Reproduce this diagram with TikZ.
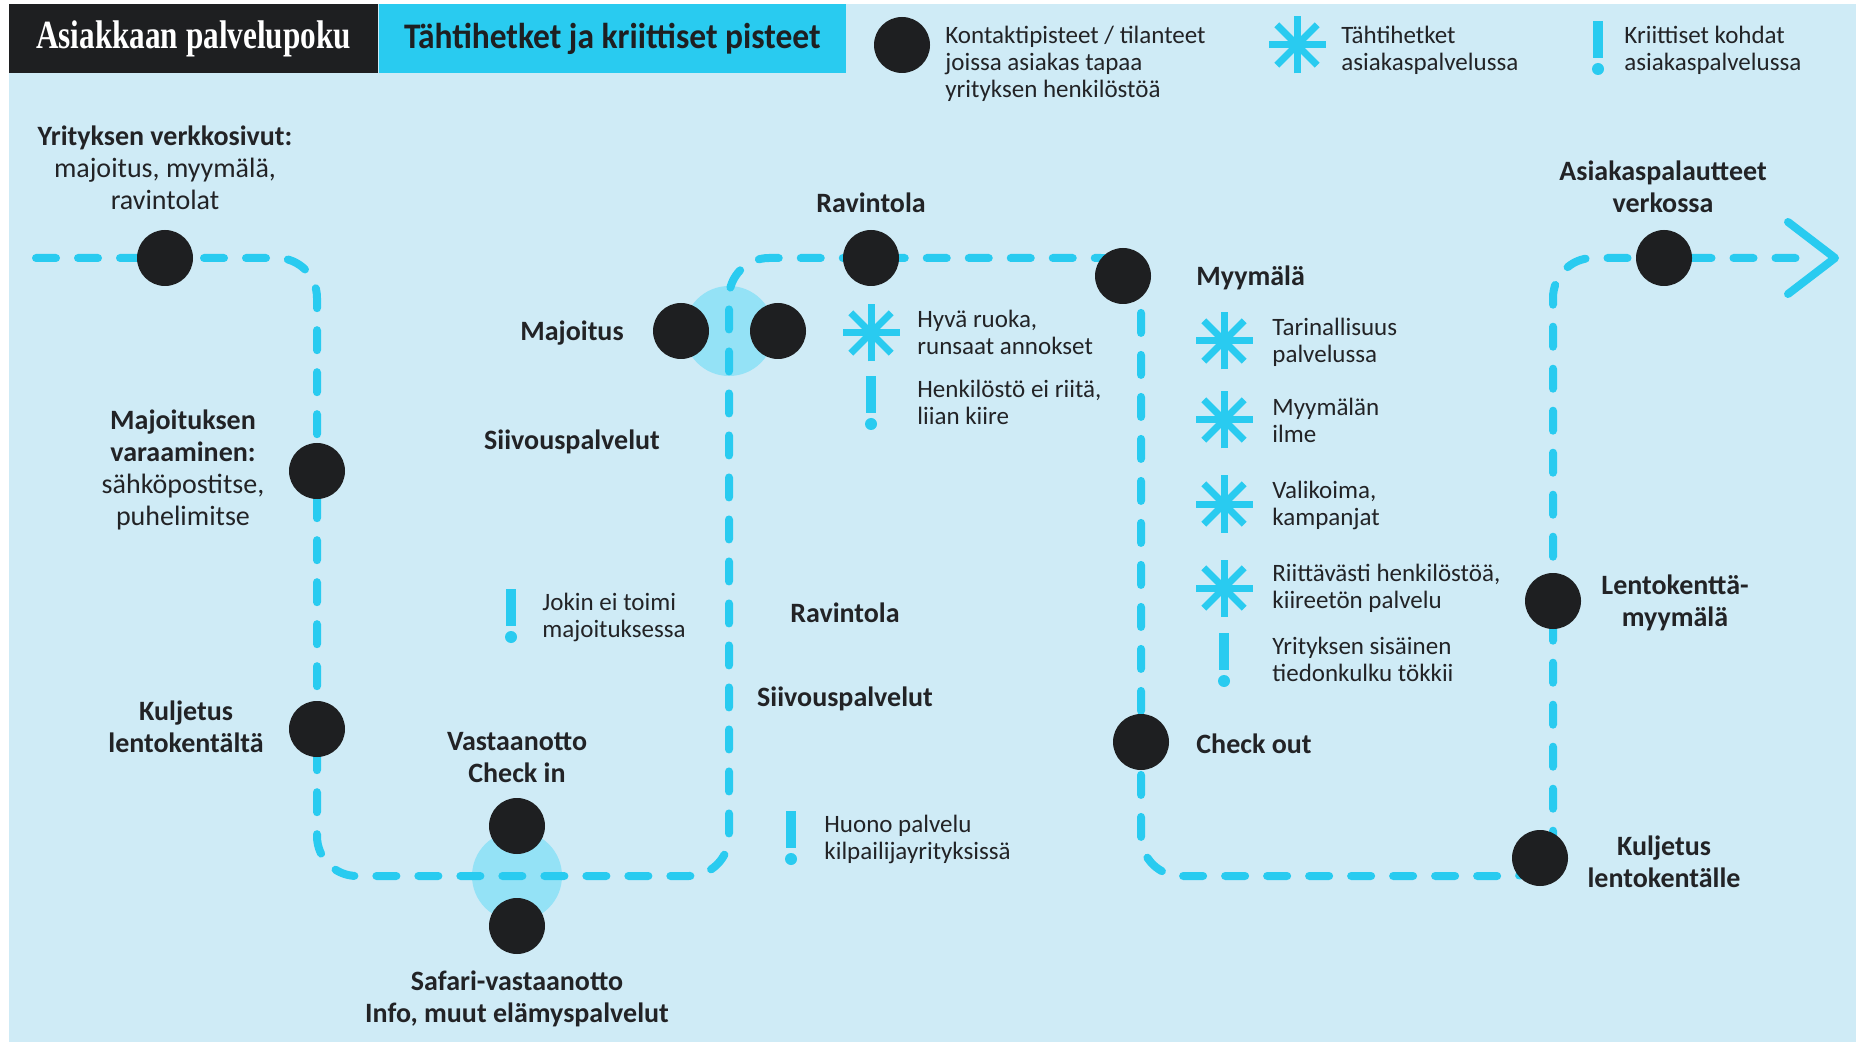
\documentclass[tikz,border=0pt]{standalone}
\usepackage{fontspec}
\setmainfont{Carlito}
\newfontfamily\titlefont[FakeStretch=0.78]{Liberation Serif}
\newfontfamily\headfont[FakeStretch=0.93]{Carlito}
\usetikzlibrary{positioning}

\definecolor{taustasin}{RGB}{207,235,246}
\definecolor{polkusin}{RGB}{41,203,240}
\definecolor{korostussin}{RGB}{148,226,246}
\definecolor{pistemusta}{RGB}{30,31,33}
\definecolor{tekstimusta}{RGB}{34,35,38}

\tikzset{
  polku/.style={draw=polkusin, line width=4pt, dash pattern=on 10pt off 11pt, line cap=round, rounded corners=20pt},
  nuoli/.style={draw=polkusin, line width=4pt, line cap=round, line join=round},
  piste/.style={circle, fill=pistemusta, minimum size=28pt, inner sep=0pt},
  korostus/.style={circle, fill=korostussin, minimum size=45pt, inner sep=0pt},
  nimi/.style={font=\bfseries\fontsize{14}{16}\selectfont, text=tekstimusta, align=center, inner sep=0pt, yshift=-0.8pt},
  selite/.style={font=\fontsize{12.5}{13.5}\selectfont, text=tekstimusta, align=left, anchor=west, inner sep=0pt},
  tahti/.pic={
    \foreach \kulma in {0,45,90,135}
      \draw[polkusin, line width=3.5pt] (\kulma:28.5) -- (\kulma+180:28.5);
  },
  huuto/.pic={
    \fill[polkusin] (-5,-25) rectangle (5,12);
    \fill[polkusin] (0,23) circle (3pt);
  },
}

\begin{document}
\begin{tikzpicture}[x=0.5pt, y=-0.5pt]
\useasboundingbox (0,0) rectangle (1856,1042);
% Background
\fill[white] (0,0) rectangle (1856,1042);
\fill[taustasin] (9,4) rectangle (1856,1042);

% Header boxes
\node[fill=pistemusta, minimum width=184.5pt, minimum height=34.5pt, inner sep=0pt, text=white,
  font=\titlefont\bfseries\fontsize{20}{22}\selectfont] (otsikko) at (193.5,38.5) {Asiakkaan palvelupoku};
\node[fill=polkusin, minimum width=233.5pt, minimum height=34.5pt, inner sep=0pt, text=pistemusta,
  font=\headfont\bfseries\fontsize{18}{20}\selectfont, right=0pt of otsikko] (alaotsikko) {Tähtihetket ja kriittiset pisteet};

% Legend
\node[piste] (selitePiste) at (902,45) {};
\node[selite] (selitePisteTxt) at (945,64) {Kontaktipisteet / tilanteet\\joissa asiakas tapaa\\yrityksen henkilöstöä};
\pic at (1297,45) {tahti};
\node[selite] (seliteTahtiTxt) at (1341,50) {Tähtihetket\\asiakaspalvelussa};
\pic at (1598,46) {huuto};
\node[selite] (seliteHuutoTxt) at (1624,50) {Kriittiset kohdat\\asiakaspalvelussa};

% Highlight circles under the path
\node[korostus] (majoitusKor) at (729,331) {};
\node[korostus] (vastaanottoKor) at (517,876) {};

% Customer path corners
\coordinate (alku) at (36,258);
\coordinate (k1) at (317,258);
\coordinate (k2) at (317,876);
\coordinate (k3) at (729,876);
\coordinate (k4) at (729,258);
\coordinate (k5) at (1141,258);
\coordinate (k6) at (1141,876);
\coordinate (k7) at (1553,876);
\coordinate (k8) at (1553,258);
\coordinate (loppu) at (1810,258);
\coordinate (karki) at (1835,258);

\draw[polku] (alku) -- (k1) -- (k2) -- (k3) -- (k4) -- (k5) -- (k6) -- (k7) -- (k8) -- (loppu);
\draw[nuoli] ([shift={(-47,-36)}]karki) -- (karki) -- ([shift={(-47,36)}]karki);

% Contact points
\node[piste] (verkko) at (165,258) {};
\node[piste] (varaus) at (317,471) {};
\node[piste] (kuljetus1) at (317,729) {};
\node[piste] (vastaanotto) at (517,826) {};
\node[piste] (safari) at (517,926) {};
\node[piste] (majoitus1) at (681,331) {};
\node[piste] (majoitus2) at (778,331) {};
\node[piste] (ravintola) at (871,258) {};
\node[piste] (myymala) at (1123,276) {};
\node[piste] (checkout) at (1141,742) {};
\node[piste] (lentomyymala) at (1553,601) {};
\node[piste] (kuljetus2) at (1540,858) {};
\node[piste] (palaute) at (1664,258) {};

% Labels of the contact points
\node[nimi] (verkkoTxt) at (165,166) {Yrityksen verkkosivut:\\\mdseries majoitus, myymälä,\\\mdseries ravintolat};
\node[nimi] (varausTxt) at (183,468) {Majoituksen\\varaaminen:\\\mdseries sähköpostitse,\\\mdseries puhelimitse};
\node[nimi] (kuljetus1Txt) at (186,725) {Kuljetus\\lentokentältä};
\node[nimi] (vastaanottoTxt) at (517,756) {Vastaanotto\\Check in};
\node[nimi] (safariTxt) at (517,997) {Safari-vastaanotto\\Info, muut elämyspalvelut};
\node[nimi] (majoitusTxt) at (572,331) {Majoitus};
\node[nimi] (siivous1Txt) at (572,440) {Siivouspalvelut};
\node[nimi] (ravintola1Txt) at (871,201) {Ravintola};
\node[nimi] (ravintola2Txt) at (845,611) {Ravintola};
\node[nimi] (siivous2Txt) at (845,697) {Siivouspalvelut};
\node[nimi, anchor=west] (myymalaTxt) at (1196,276) {Myymälä};
\node[nimi, anchor=west] (checkoutTxt) at (1196,742) {Check out};
\node[nimi] (lentomyymalaTxt) at (1675,601) {Lentokenttä-\\myymälä};
\node[nimi] (kuljetus2Txt) at (1664,860) {Kuljetus\\lentokentälle};
\node[nimi] (palauteTxt) at (1663,185) {Asiakaspalautteet\\verkossa};

% Star moments and critical points
\pic at (871,333) {tahti};
\node[selite] (ruokaTxt) at (917,332) {Hyvä ruoka,\\runsaat annokset};
\pic at (871,401) {huuto};
\node[selite] (kiireTxt) at (917,402) {Henkilöstö ei riitä,\\liian kiire};
\pic at (511,614) {huuto};
\node[selite] (jokinTxt) at (542,617) {Jokin ei toimi\\majoituksessa};
\pic at (791,836) {huuto};
\node[selite] (huonoTxt) at (824,839) {Huono palvelu\\kilpailijayrityksissä};

\pic at (1224,341) {tahti};
\node[selite] (tarinaTxt) at (1272,342) {Tarinallisuus\\palvelussa};
\pic at (1224,420) {tahti};
\node[selite] (ilmeTxt) at (1272,420) {Myymälän\\ilme};
\pic at (1224,504) {tahti};
\node[selite] (valikoimaTxt) at (1272,505) {Valikoima,\\kampanjat};
\pic at (1224,588) {tahti};
\node[selite] (riittavaTxt) at (1272,588) {Riittävästi henkilöstöä,\\kiireetön palvelu};
\pic at (1224,658) {huuto};
\node[selite] (tiedonkulkuTxt) at (1272,659) {Yrityksen sisäinen\\tiedonkulku tökkii};
\end{tikzpicture}
\end{document}
